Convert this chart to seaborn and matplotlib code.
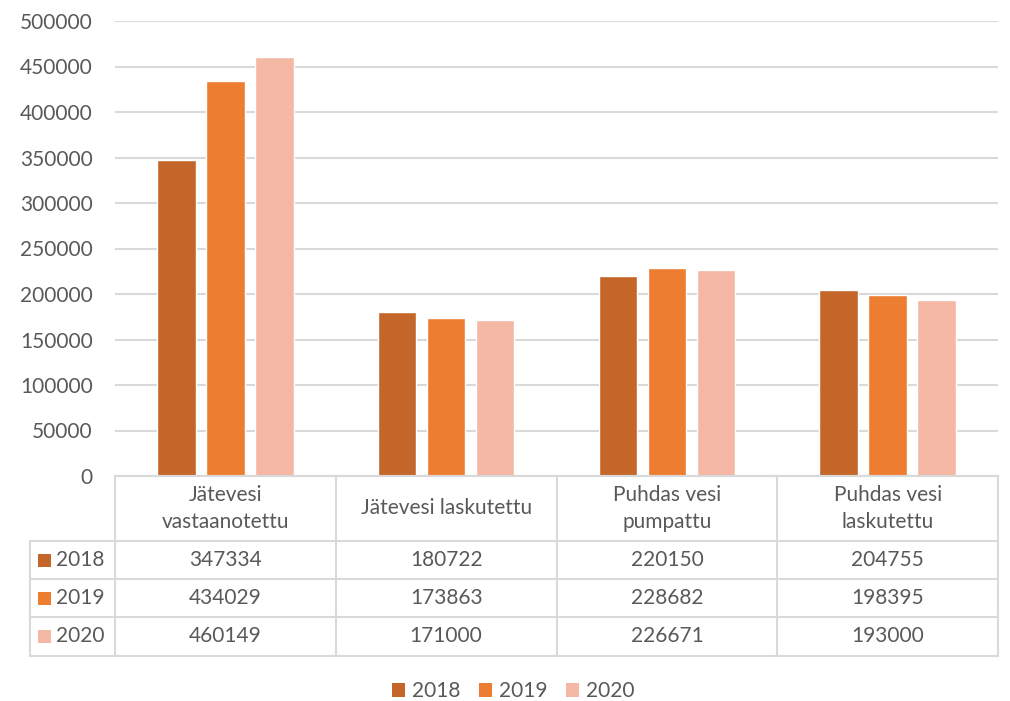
import matplotlib
matplotlib.use("Agg")
import matplotlib.pyplot as plt
import matplotlib.patches as mpatches
import seaborn as sns
import pandas as pd

# Water volumes per category and year
categories = ["Jätevesi\nvastaanotettu", "Jätevesi laskutettu",
              "Puhdas vesi\npumpattu", "Puhdas vesi\nlaskutettu"]
years = ["2018", "2019", "2020"]
values_2018 = [347334, 180722, 220150, 204755]
values_2019 = [434029, 173863, 228682, 198395]
values_2020 = [460149, 171000, 226671, 193000]
series = {"2018": values_2018, "2019": values_2019, "2020": values_2020}
colors = ["#C4662A", "#ED7D31", "#F4B8A5"]
yticks = list(range(0, 500001, 50000))

rows = []
for y in years:
    for c, v in zip(categories, series[y]):
        rows.append({"cat": c, "value": v, "year": y})
df = pd.DataFrame(rows)

sns.set_theme(style="white")
plt.rcParams["font.family"] = ["Lato", "DejaVu Sans"]
text_color = "#595959"
line_color = "#D9D9D9"
fs = 15

fig = plt.figure(figsize=(10.10, 7.01), dpi=100)
W, H = 1010, 701
ax = fig.add_axes([115 / W, 1 - 476 / H, (998 - 115) / W, (476 - 21) / H])

sns.barplot(data=df, x="cat", y="value", hue="year", hue_order=years,
            palette=colors, width=0.666, gap=0.214, saturation=1,
            ax=ax, legend=False)

ax.set_ylim(0, 500000)
ax.set_xlim(-0.5, 3.5)
ax.set_yticks(yticks)
ax.set_yticklabels([str(t) for t in yticks], color=text_color, fontsize=fs)
ax.tick_params(axis="y", length=0, pad=16)
ax.set_xticks([])
ax.set_xlabel("")
ax.set_ylabel("")
ax.yaxis.grid(True, color=line_color, linewidth=1.5)
ax.set_axisbelow(True)
for s in ["left", "right", "top"]:
    ax.spines[s].set_visible(False)
ax.spines["bottom"].set_color(line_color)
ax.spines["bottom"].set_linewidth(1.5)

# Data table under the axes (axes-fraction coordinates)
def fy(py):
    return (476 - py) / (476 - 21)

x_left = (30 - 115) / (998 - 115)
col_edges = [0, 0.25, 0.5, 0.75, 1.0]
row_edges = [fy(476), fy(541), fy(579), fy(617), fy(656)]
lk = dict(color=line_color, linewidth=1.5, transform=ax.transAxes, clip_on=False)

for xe in col_edges:
    ax.plot([xe, xe], [row_edges[0], row_edges[-1]], **lk)
ax.plot([x_left, x_left], [row_edges[1], row_edges[-1]], **lk)
ax.plot([0, 1], [row_edges[0], row_edges[0]], **lk)
for ye in row_edges[1:]:
    ax.plot([x_left, 1], [ye, ye], **lk)

# Header cells: category names
for i, c in enumerate(categories):
    ax.text((col_edges[i] + col_edges[i + 1]) / 2, (row_edges[0] + row_edges[1]) / 2,
            c, transform=ax.transAxes, ha="center", va="center",
            fontsize=fs, color=text_color, linespacing=1.45)

# Body rows: key swatch, year label and values
for r, y in enumerate(years):
    yc = (row_edges[r + 1] + row_edges[r + 2]) / 2
    sw = 13 / (998 - 115)
    sh = 13 / (476 - 21)
    ax.add_patch(mpatches.Rectangle((x_left + 8 / 883, yc - sh / 2), sw, sh,
                                    facecolor=colors[r], edgecolor="none",
                                    transform=ax.transAxes, clip_on=False))
    ax.text(x_left + 26 / 883, yc, y, transform=ax.transAxes, ha="left",
            va="center", fontsize=fs, color=text_color)
    for i, v in enumerate(series[y]):
        ax.text((col_edges[i] + col_edges[i + 1]) / 2, yc, str(v),
                transform=ax.transAxes, ha="center", va="center",
                fontsize=fs, color=text_color)

handles = [mpatches.Patch(facecolor=c, edgecolor="none", label=y)
           for c, y in zip(colors, years)]
fig.legend(handles=handles, loc="center", bbox_to_anchor=(513 / W, 1 - 691 / H),
           ncol=3, frameon=False, fontsize=fs, labelcolor=text_color,
           handlelength=0.65, handleheight=0.65, handletextpad=0.3,
           columnspacing=0.9)

fig.savefig("out.png", dpi=100)
